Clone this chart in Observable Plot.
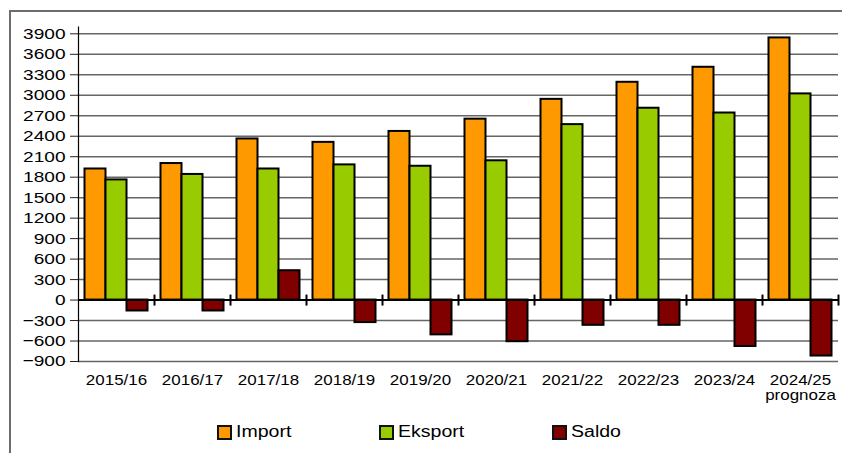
<!DOCTYPE html>
<html>
<head>
<meta charset="utf-8">
<script src="https://cdn.jsdelivr.net/npm/d3@7"></script>
<script src="https://cdn.jsdelivr.net/npm/@observablehq/plot@0.6"></script>
<style>
  html, body { margin: 0; padding: 0; background: #fff; width: 842px; height: 453px; overflow: hidden; }
  #frame { position: absolute; left: 9px; top: 10px; width: 900px; height: 500px;
           border-left: 2px solid #6d6d6d; border-top: 2px solid #6d6d6d;
           font-family: "Liberation Sans", Arial, sans-serif; color: #000; }
  #chart svg { display: block; }
  #legend { position: relative; height: 50px; }
  .item { position: absolute; top: 13px; display: flex; align-items: center; height: 18px; }
  .sw { width: 11px; height: 11px; border: 2px solid #111; box-sizing: content-box; }
  .lbl { display: inline-block; margin-left: 4px; font-size: 16px; transform: scaleX(1.22); transform-origin: left center; white-space: nowrap; }
</style>
</head>
<body>
<div id="frame">
  <div id="chart"></div>
  <div id="legend"></div>
</div>
<script>
const categories = ["2015/16", "2016/17", "2017/18", "2018/19", "2019/20", "2020/21", "2021/22", "2022/23", "2023/24", "2024/25"];
const forecastCategory = "2024/25";
const forecastNote = "prognoza";
const seriesNames = ["Import", "Eksport", "Saldo"];
const seriesColors = ["#ff9900", "#99cc00", "#800000"];
const importValues = [1920, 2000, 2360, 2310, 2470, 2650, 2940, 3190, 3410, 3840];
const eksportValues = [1760, 1840, 1920, 1980, 1960, 2040, 2570, 2810, 2740, 3020];
const saldoValues = [-160, -160, 430, -330, -510, -610, -370, -370, -680, -820];
const yTicks = [-900, -600, -300, 0, 300, 600, 900, 1200, 1500, 1800, 2100, 2400, 2700, 3000, 3300, 3600, 3900];
const yDomain = [-900, 4000];

const rows = [];
const seriesValues = [importValues, eksportValues, saldoValues];
categories.forEach((c, i) => {
  seriesNames.forEach((s, j) => rows.push({category: c, series: s, value: seriesValues[j][i]}));
});

const W = 831, H = 398;
const mT = 14.5, mB = 49, mL = 66.5, mR = 3;
const plotH = H - mT - mB;
const yPx = v => mT + (yDomain[1] - v) / (yDomain[1] - yDomain[0]) * plotH;
const y0 = yPx(0);

const plot = Plot.plot({
  width: W,
  height: H,
  marginTop: mT,
  marginBottom: mB,
  marginLeft: mL,
  marginRight: mR,
  style: {fontFamily: "'Liberation Sans', Arial, sans-serif", color: "#000", background: "transparent"},
  fx: {domain: categories, padding: 0, axis: null, label: null},
  x: {domain: seriesNames, paddingInner: 0, paddingOuter: 0.25, axis: null, label: null},
  y: {domain: yDomain, axis: null, label: null},
  color: {domain: seriesNames, range: seriesColors},
  marks: [
    Plot.gridY(yTicks, {stroke: "#666", strokeOpacity: 1, strokeWidth: 1.5}),
    Plot.axisY(yTicks, {tickSize: 8, tickPadding: 5, fontSize: 15.5, label: null, stroke: "#222",
      tickFormat: d3.format("d")}),
    Plot.frame({anchor: "left", facetAnchor: "left", stroke: "#000", strokeWidth: 1.2}),
    Plot.barY(rows, {fx: "category", x: "series", y: "value", fill: "series", stroke: "#000", strokeWidth: 2}),
    Plot.ruleY([0], {stroke: "#000", strokeWidth: 2}),
    Plot.frame({anchor: "right", stroke: "#000", strokeWidth: 2, insetTop: (y0 - mT) - 4.5, insetBottom: (H - mB - y0) - 4.5}),
    Plot.axisFx({anchor: "bottom", tickSize: 0, tickPadding: 13, fontSize: 15, label: null,
      tickFormat: d => d === forecastCategory ? d + "\n" + forecastNote : d})
  ]
});

// Reference text is horizontally stretched
plot.querySelectorAll("text").forEach(t => {
  const yLabel = t.closest('g[aria-label="y-axis tick label"]');
  const tr = t.getAttribute("transform") || "";
  t.setAttribute("transform", (tr + (yLabel ? " scale(1.23,1)" : " scale(1.13,1)")).trim());
});
document.getElementById("chart").appendChild(plot);

const legend = document.getElementById("legend");
const legendLeft = [206, 368, 541];
seriesNames.forEach((s, j) => {
  const it = document.createElement("div");
  it.className = "item";
  it.style.left = legendLeft[j] + "px";
  const sw = document.createElement("div");
  sw.className = "sw";
  sw.style.background = seriesColors[j];
  const lb = document.createElement("span");
  lb.className = "lbl";
  lb.textContent = s;
  it.appendChild(sw);
  it.appendChild(lb);
  legend.appendChild(it);
});
</script>
</body>
</html>
